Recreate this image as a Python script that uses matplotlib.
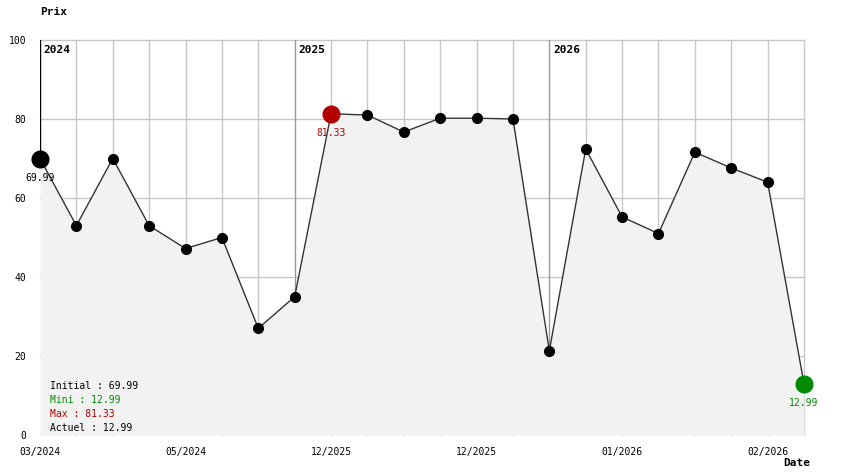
import matplotlib
matplotlib.use("Agg")
import matplotlib.pyplot as plt
import numpy as np

# Historique des prix (un point par relevé)
prix = [69.99, 53.0, 70.0, 53.0, 47.2, 50.0, 27.0, 35.0, 81.33, 81.0, 76.7,
        80.2, 80.2, 80.0, 21.3, 72.4, 55.2, 51.0, 71.6, 67.6, 64.0, 12.99]
x_labels = ["03/2024", "05/2024", "12/2025", "12/2025", "01/2026", "02/2026"]
x_label_pos = [0, 4, 8, 12, 16, 20]
annees = ["2024", "2025", "2026"]
annees_pos = [0, 7, 14]
y_ticks = [0, 20, 40, 60, 80, 100]

FONT = "DejaVu Sans Mono"
GREEN = "#008a00"
RED = "#b40000"

W, H = 844, 474
fig = plt.figure(figsize=(W / 100, H / 100), dpi=100)
x0, x1, y0, y1 = 40, 804, 40, 435
ax = fig.add_axes([x0 / W, (H - y1) / H, (x1 - x0) / W, (y1 - y0) / H])

x = np.arange(len(prix))
ax.set_xlim(0, len(prix) - 1)
ax.set_ylim(0, 100)

# grille
for xi in x:
    if xi in annees_pos:
        continue
    ax.axvline(xi, color="#c8c8c8", lw=1, zorder=1, clip_on=False)
for yv in y_ticks[1:]:
    ax.axhline(yv, color="#c8c8c8", lw=1, zorder=1, clip_on=False)
for xi, an in zip(annees_pos, annees):
    col = "black" if xi == 0 else "#999999"
    top = prix[0] if xi == 0 else 0
    ax.plot([xi, xi], [top, 100], color=col, lw=1, zorder=1.5)
    ax.text(xi + 0.1, 97.5, an, fontsize=8, fontweight="bold", family=FONT,
            va="center", ha="left")

ax.fill_between(x, prix, 0, color="#f2f2f2", zorder=2, lw=0)
ax.plot(x, prix, color="#333333", lw=1, zorder=3)
ax.plot(x[1:-1], prix[1:-1], "o", color="black", ms=7, zorder=4)

i_max = int(np.argmax(prix))
ax.plot(x[0], prix[0], "o", color="black", ms=12, zorder=5, clip_on=False)
ax.plot(x[i_max], prix[i_max], "o", color=RED, ms=12, zorder=5)
ax.plot(x[-1], prix[-1], "o", color=GREEN, ms=12, zorder=5, clip_on=False)

ax.annotate(f"{prix[0]:.2f}", (x[0], prix[0]), xytext=(0, -14), textcoords="offset points",
            ha="center", va="center", fontsize=7, family=FONT)
ax.annotate(f"{prix[i_max]:.2f}", (x[i_max], prix[i_max]), xytext=(0, -14),
            textcoords="offset points", ha="center", va="center", fontsize=7,
            family=FONT, color=RED)
ax.annotate(f"{prix[-1]:.2f}", (x[-1], prix[-1]), xytext=(0, -14), textcoords="offset points",
            ha="center", va="center", fontsize=7, family=FONT, color=GREEN)

for s in ax.spines.values():
    s.set_visible(False)
ax.tick_params(length=0, labelsize=7)
ax.set_yticks(y_ticks)
ax.set_yticklabels([str(v) for v in y_ticks], family=FONT)
ax.tick_params(axis="y", pad=10)
ax.set_xticks(x_label_pos)
ax.set_xticklabels(x_labels, family=FONT)
ax.tick_params(axis="x", pad=9)

# résumé
resume = [(f"Initial : {prix[0]:.2f}", "black"),
          (f"Mini : {min(prix):.2f}", GREEN),
          (f"Max : {max(prix):.2f}", RED),
          (f"Actuel : {prix[-1]:.2f}", "black")]
for k, (txt, col) in enumerate(resume):
    fig.text(50 / W, 1 - (386 + 14 * k) / H, txt, fontsize=7, family=FONT, color=col,
             va="center", ha="left")

fig.text(40 / W, 1 - 12 / H, "Prix", fontsize=8, fontweight="bold", family=FONT,
         va="center", ha="left")
fig.text(797 / W, 1 - 463 / H, "Date", fontsize=8, fontweight="bold", family=FONT,
         va="center", ha="center")

fig.savefig("out.png", dpi=100)
